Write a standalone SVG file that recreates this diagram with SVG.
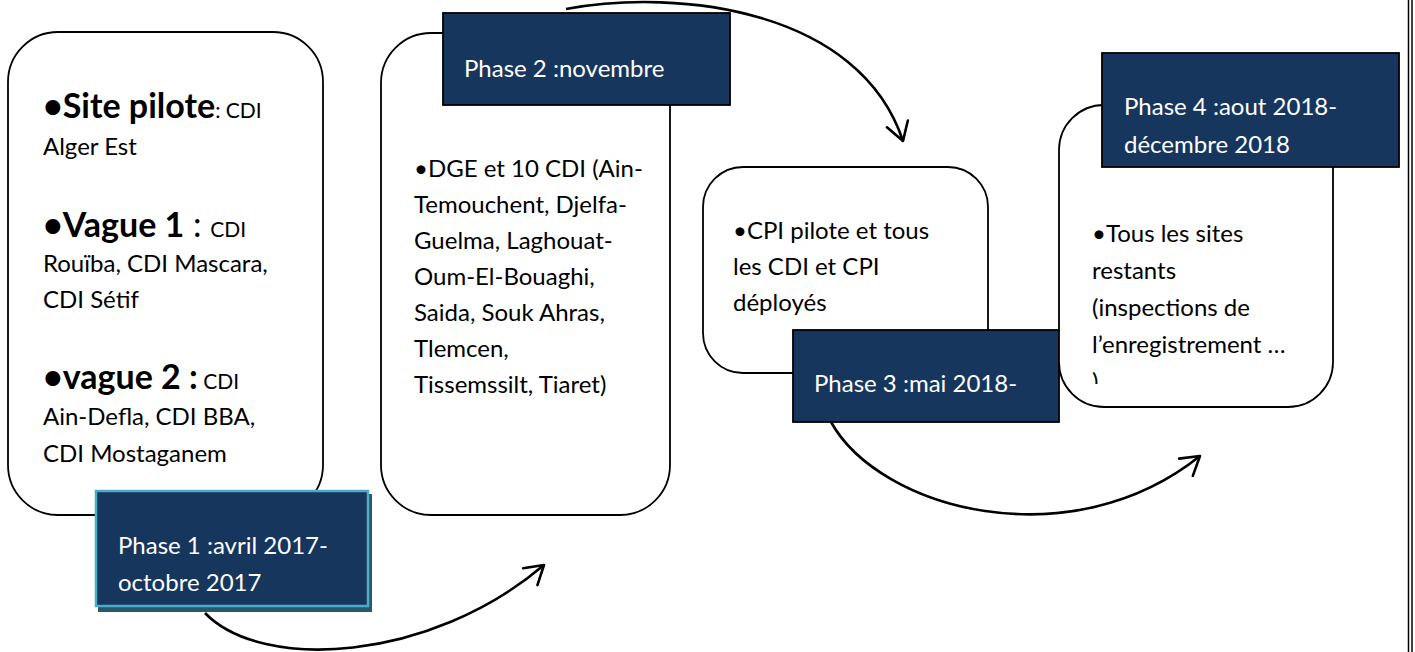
<svg xmlns="http://www.w3.org/2000/svg" width="1415" height="652" viewBox="0 0 1415 652">
<style>
.card{fill:#ffffff;stroke:#000000;stroke-width:1.8}
.phase{fill:#17365D;stroke:#000000;stroke-width:1.8}
.ptxt{font-family:Lato,"Open Sans",sans-serif;font-size:24px;fill:#ffffff}
.txt{font-family:Lato,"Open Sans",sans-serif;font-size:24px;fill:#000000}
.big{font-weight:bold;font-size:34px}
.mid{font-size:34px}
.small{font-size:21px}
.conn{fill:none;stroke:#000000;stroke-width:2.6}
</style>
<defs>
<marker id="open" markerUnits="userSpaceOnUse" markerWidth="30" markerHeight="30" viewBox="-22 -15 26 30" refX="0" refY="0" orient="auto">
<path d="M-18,-11 L0,0 L-18,11" fill="none" stroke="#000000" stroke-width="2.6" stroke-linecap="round" stroke-linejoin="round"/>
</marker>
<clipPath id="cut"><rect x="1080" y="360" width="60" height="24"/></clipPath>
</defs>
<rect width="1415" height="652" fill="#ffffff"/>
<g id="border">
<line x1="1408.5" y1="0" x2="1408.5" y2="652" stroke="#000" stroke-width="1.5"/>
<line x1="1412" y1="0" x2="1412" y2="652" stroke="#000" stroke-width="1.5"/>
</g>
<g id="node1">
<rect class="card" x="8" y="32" width="315" height="483" rx="50" ry="50"/>
<text class="txt" x="43" y="118"><tspan class="big">•Site pilote</tspan><tspan class="small">: CDI</tspan></text>
<text class="txt" x="43" y="155">Alger Est</text>
<text class="txt" x="43" y="237"><tspan class="big">•Vague 1</tspan><tspan class="mid"> : </tspan><tspan class="small">CDI</tspan></text>
<text class="txt" x="43" y="272">Rouïba, CDI Mascara,</text>
<text class="txt" x="43" y="308">CDI Sétif</text>
<text class="txt" x="43" y="389"><tspan class="big">•vague 2 :</tspan><tspan class="small"> CDI</tspan></text>
<text class="txt" x="43" y="425">Ain-Defla, CDI BBA,</text>
<text class="txt" x="43" y="462">CDI Mostaganem</text>
</g>
<g id="phase1">
<rect x="98" y="494" width="274" height="118" fill="#245A6A"/>
<rect x="96" y="491" width="272" height="115" fill="#17365D" stroke="#4BACC6" stroke-width="2.5"/>
<text class="ptxt" x="118" y="554">Phase 1 :avril 2017-</text>
<text class="ptxt" x="118" y="591">octobre 2017</text>
</g>
<g id="node2">
<rect class="card" x="381" y="33" width="289" height="482" rx="50" ry="50"/>
<text class="txt" x="414" y="177">•DGE et 10 CDI (Ain-</text>
<text class="txt" x="414" y="213">Temouchent, Djelfa-</text>
<text class="txt" x="414" y="249">Guelma, Laghouat-</text>
<text class="txt" x="414" y="285">Oum-El-Bouaghi,</text>
<text class="txt" x="414" y="321">Saida, Souk Ahras,</text>
<text class="txt" x="414" y="357">Tlemcen,</text>
<text class="txt" x="414" y="393">Tissemssilt, Tiaret)</text>
</g>
<g id="phase2">
<rect class="phase" x="443" y="13" width="287" height="92"/>
<text class="ptxt" x="464" y="77">Phase 2 :novembre</text>
</g>
<g id="node3">
<rect class="card" x="703" y="167" width="285" height="206" rx="40" ry="40"/>
<text class="txt" x="733" y="239">•CPI pilote et tous</text>
<text class="txt" x="733" y="275">les CDI et CPI</text>
<text class="txt" x="733" y="311">déployés</text>
</g>
<g id="phase3">
<rect class="phase" x="793" y="330" width="266" height="92"/>
<text class="ptxt" x="814" y="392">Phase 3 :mai 2018-</text>
</g>
<g id="node4">
<rect class="card" x="1059" y="105" width="274" height="302" rx="45" ry="45"/>
<text class="txt" x="1092" y="242">•Tous les sites</text>
<text class="txt" x="1092" y="279">restants</text>
<text class="txt" x="1092" y="316">(inspections de</text>
<text class="txt" x="1092" y="353">l’enregistrement …</text>
<text class="txt" x="1092" y="390" clip-path="url(#cut)">)</text>
</g>
<g id="phase4">
<rect class="phase" x="1102" y="53" width="297" height="114"/>
<text class="ptxt" x="1124" y="115">Phase 4 :aout 2018-</text>
<text class="ptxt" x="1124" y="153">décembre 2018</text>
</g>
<g id="connectors">
<path class="conn" d="M205,613 C262,672 430,662 544,565" marker-end="url(#open)"/>
<path class="conn" d="M566,9 C680,-12 860,10 903,141" marker-end="url(#open)"/>
<path class="conn" d="M831,422 C880,510 1070,560 1200,456" marker-end="url(#open)"/>
</g>
</svg>
